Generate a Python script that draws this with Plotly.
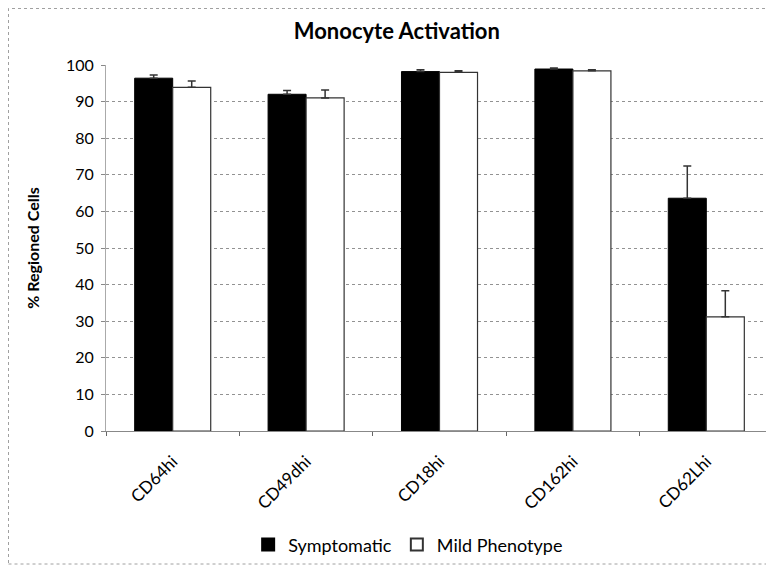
import plotly.graph_objects as go

# Monocyte activation markers, % regioned cells
markers = ["CD64hi", "CD49dhi", "CD18hi", "CD162hi", "CD62Lhi"]
symptomatic = [96.4, 92.0, 98.2, 98.9, 63.6]
symptomatic_err = [0.9, 1.0, 0.5, 0.3, 8.8]
mild = [93.9, 91.0, 98.0, 98.4, 31.2]
mild_err = [1.7, 2.2, 0.4, 0.3, 7.1]
y_ticks = [0, 10, 20, 30, 40, 50, 60, 70, 80, 90, 100]

FONT = "Lato, Carlito, Calibri, sans-serif"
GRID = "rgba(110,110,110,0.75)"

# plot area in figure pixels (page body adds an 8px offset)
L, T, PW, PH = 98, 57, 667, 366

fig = go.Figure()
fig.add_trace(go.Bar(
    x=markers, y=symptomatic, name="Symptomatic",
    marker=dict(color="black", line=dict(color="black", width=1)),
    error_y=dict(type="data", symmetric=False, array=symptomatic_err,
                 arrayminus=[0] * len(markers), color="#333", thickness=1.5, width=4),
))
fig.add_trace(go.Bar(
    x=markers, y=mild, name="Mild Phenotype",
    marker=dict(color="white", line=dict(color="#333", width=1.2)),
    error_y=dict(type="data", symmetric=False, array=mild_err,
                 arrayminus=[0] * len(markers), color="#333", thickness=1.5, width=4),
))

fig.update_layout(
    width=774, height=567,
    margin=dict(l=L, r=774 - L - PW, t=T, b=567 - T - PH, autoexpand=False),
    paper_bgcolor="white", plot_bgcolor="white",
    font=dict(family=FONT, color="black", size=15),
    title=dict(text="<b>Monocyte Activation</b>", x=0.436, xanchor="center",
               xref="paper", y=0.959, yanchor="middle", font=dict(size=22)),
    barmode="group", bargap=0.43, bargroupgap=0,
    showlegend=True,
    legend=dict(orientation="h", x=0.453, xanchor="center", y=-0.311, yanchor="middle",
                font=dict(size=18), itemsizing="constant", traceorder="normal",
                itemwidth=30),
    shapes=[dict(type="rect", xref="paper", yref="paper",
                 x0=(0.5 - L) / PW, x1=(764 - L) / PW,
                 y0=-(556 - T - PH) / PH, y1=1 + (T - 0.5) / PH,
                 line=dict(color="rgba(120,120,120,0.7)", width=1, dash="dot"),
                 layer="below")],
)

fig.update_xaxes(
    tickangle=-45, tickfont=dict(size=17), automargin=False,
    ticks="outside", tickson="boundaries", ticklen=4, tickcolor="#666",
    ticklabelstandoff=13,
    showline=True, linecolor="#888", linewidth=1,
    showgrid=False,
)
fig.update_yaxes(
    range=[0, 100], tickvals=y_ticks, tickfont=dict(size=16), automargin=False,
    ticks="outside", ticklen=4, tickcolor="#888", ticklabelstandoff=4,
    showline=True, linecolor="#aaa", linewidth=1,
    showgrid=True, gridcolor=GRID, griddash="dot", gridwidth=1,
    zeroline=False,
    title=dict(text="<b>% Regioned Cells</b>", font=dict(size=16), standoff=22),
)

fig.write_html("out.html")
